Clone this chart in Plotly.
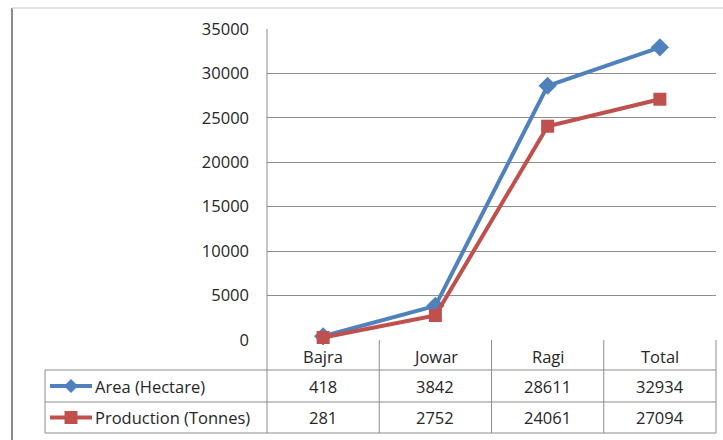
import plotly.graph_objects as go

categories = ["Bajra", "Jowar", "Ragi", "Total"]
area_hectare = [418, 3842, 28611, 32934]
production_tonnes = [281, 2752, 24061, 27094]
series_names = ["Area (Hectare)", "Production (Tonnes)"]
y_ticks = [0, 5000, 10000, 15000, 20000, 25000, 30000, 35000]

W, H = 723, 440
BLUE = "#4F81BD"
RED = "#C0504D"
GRID = "#8C8C8C"
FONT = "Open Sans, sans-serif"
FS = 16.5
TXT = "#262626"

# pixel geometry
PL, PR, PT, PB = 267, 716, 29, 340
TL = 45
ROW = [340, 370, 402, 433]

def px(x):
    return x / W

def py(y):
    return 1 - y / H

xs = list(range(len(categories)))

fig = go.Figure()
fig.add_trace(go.Scatter(
    x=xs, y=area_hectare, mode="lines+markers", name=series_names[0],
    line=dict(color=BLUE, width=4),
    marker=dict(symbol="diamond", size=14, color=BLUE),
    showlegend=False, cliponaxis=False))
fig.add_trace(go.Scatter(
    x=xs, y=production_tonnes, mode="lines+markers", name=series_names[1],
    line=dict(color=RED, width=4),
    marker=dict(symbol="square", size=13, color=RED),
    showlegend=False, cliponaxis=False))

shapes = []
line_style = dict(color=GRID, width=1)
# outer chart border
shapes.append(dict(type="line", xref="paper", yref="paper", x0=px(12), x1=px(12), y0=py(8), y1=py(440),
                   line=dict(color="#8a8a8a", width=2)))
shapes.append(dict(type="line", xref="paper", yref="paper", x0=px(12), x1=px(723), y0=py(8), y1=py(8),
                   line=dict(color="#d9d9d9", width=1.5)))
# table horizontal lines
for y in ROW[1:]:
    shapes.append(dict(type="line", xref="paper", yref="paper", x0=px(TL), x1=px(PR), y0=py(y), y1=py(y), line=line_style))
# table vertical lines
shapes.append(dict(type="line", xref="paper", yref="paper", x0=px(TL), x1=px(TL), y0=py(ROW[1]), y1=py(ROW[3]), line=line_style))
colw = (PR - PL) / len(categories)
for i in range(len(categories) + 1):
    x = PL + i * colw
    y_top = PT if i == 0 else ROW[0]
    shapes.append(dict(type="line", xref="paper", yref="paper", x0=px(x), x1=px(x), y0=py(y_top), y1=py(ROW[3]), line=line_style))

# legend keys inside the table
key_rows = [(ROW[1] + ROW[2]) / 2, (ROW[2] + ROW[3]) / 2]
kx = 71
for color, sym, yc in [(BLUE, "diamond", key_rows[0]), (RED, "square", key_rows[1])]:
    shapes.append(dict(type="line", xref="paper", yref="paper", x0=px(50), x1=px(92), y0=py(yc), y1=py(yc),
                       line=dict(color=color, width=4)))
    if sym == "diamond":
        d = 7
        path = (f"M {px(kx)},{py(yc - d)} L {px(kx + d)},{py(yc)} L {px(kx)},{py(yc + d)} "
                f"L {px(kx - d)},{py(yc)} Z")
    else:
        d = 6.5
        path = (f"M {px(kx - d)},{py(yc - d)} L {px(kx + d)},{py(yc - d)} L {px(kx + d)},{py(yc + d)} "
                f"L {px(kx - d)},{py(yc + d)} Z")
    shapes.append(dict(type="path", xref="paper", yref="paper", path=path, fillcolor=color,
                       line=dict(color=color, width=0)))

annotations = []
font = dict(family=FONT, size=FS, color=TXT)

def label(x, y, text, xanchor="center"):
    annotations.append(dict(x=px(x), y=py(y), xref="paper", yref="paper", text=text,
                            xanchor=xanchor, yanchor="middle", showarrow=False, font=font))

for i, c in enumerate(categories):
    xc = PL + (i + 0.5) * colw
    label(xc, (ROW[0] + ROW[1]) / 2 + 1, c)
    label(xc, key_rows[0], str(area_hectare[i]))
    label(xc, key_rows[1], str(production_tonnes[i]))
for name, yc in zip(series_names, key_rows):
    label(93, yc, name, xanchor="left")

fig.update_layout(
    width=W, height=H, margin=dict(l=0, r=0, t=0, b=0, pad=0, autoexpand=False),
    paper_bgcolor="white", plot_bgcolor="white", showlegend=False,
    xaxis=dict(domain=[px(PL), px(PR)], range=[-0.5, len(categories) - 0.5],
               showticklabels=False, showgrid=False, zeroline=False, showline=False, fixedrange=True),
    yaxis=dict(domain=[py(PB), py(PT)], range=[0, 35000], tickvals=y_ticks,
               ticktext=[str(v) for v in y_ticks], showgrid=True, gridcolor=GRID, gridwidth=1,
               zeroline=False, showline=False, ticks="", ticklabelstandoff=17, automargin=False,
               tickfont=font),
    shapes=shapes, annotations=annotations,
)

fig.write_html("out.html", config={"displayModeBar": False},
               post_script="document.body.style.margin='0px';")
